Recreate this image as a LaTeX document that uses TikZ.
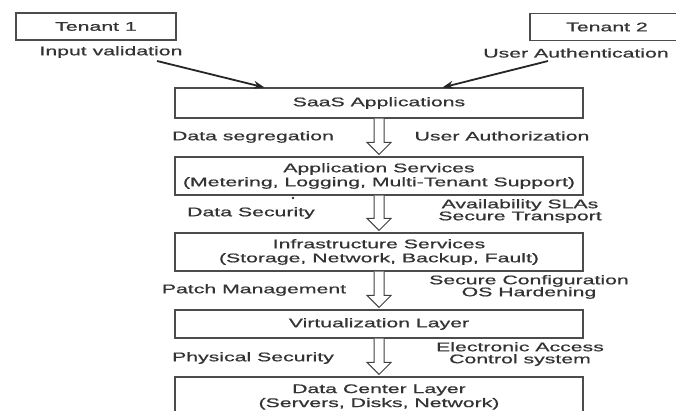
\documentclass[tikz,border=0pt]{standalone}
\usepackage{fontspec}
\setmainfont[FakeStretch=1.7,FakeBold=0.7]{Liberation Sans}
\usetikzlibrary{calc,arrows.meta}
\begin{document}
\begin{tikzpicture}[x=1pt,y=-1pt,
  txt/.style={inner sep=0pt,text=black!80,font=\fontsize{12.5}{12}\selectfont,align=center},
  layer/.style={draw=black!70,line width=1.1pt,minimum width=408pt,inner sep=0pt,text=black!80,font=\fontsize{12.5}{14}\selectfont,align=center},
  tenant/.style={draw=black!70,line width=1.1pt,minimum height=27pt,inner sep=0pt,text=black!80,font=\fontsize{12.5}{14}\selectfont},
  arr/.style={draw=black!85,line width=1.8pt,-{Stealth[length=11pt,width=8pt]}},
  darr/.style={draw=black!75,line width=1pt,fill=white,line join=miter}]
\useasboundingbox[fill=white] (0,0) rectangle (676,410);
% tenants
\node[tenant,minimum width=160pt] (t1) at (96,26.5) {Tenant 1};
\node[tenant,minimum width=154pt] (t2) at (607,27) {Tenant 2};
\node[txt] (iv) at (111,52) {Input validation};
\node[txt] (ua) at (576,53) {User Authentication};
% layers
\node[layer,minimum height=30pt] (saas) at (379,103) {SaaS Applications};
\node[layer,minimum height=38pt] (app) at (379,176) {Application Services\\(Metering, Logging, Multi-Tenant Support)};
\node[layer,minimum height=38pt] (infra) at (379,252) {Infrastructure Services\\(Storage, Network, Backup, Fault)};
\node[layer,minimum height=28pt] (virt) at (379,324) {Virtualization Layer};
\node[layer,minimum height=40pt] (dc) at (379,397) {Data Center Layer\\(Servers, Disks, Network)};
% labels
\node[txt] (l1) at (253,137) {Data segregation};
\node[txt] (r1) at (502,136) {User Authorization};
\node[txt] (l2) at (251,213) {Data Security};
\node[txt] (r2) at (520,211) {Availability SLAs\\Secure Transport};
\node[txt] (l3) at (254,290) {Patch Management};
\node[txt] (r3) at (529,287) {Secure Configuration\\OS Hardening};
\node[txt] (l4) at (253,358) {Physical Security};
\node[txt] (r4) at (520,354) {Electronic Access\\Control system};
\fill[black!80] (293,198) circle (1.3pt);
% tenant arrows
\coordinate (s1) at (157,61);
\coordinate (s2) at (548,61);
\draw[arr] (s1) -- ($(saas.north west)+(90,0)$);
\draw[arr] (s2) -- ($(saas.north west)+(268,0)$);
% double arrows between layers
\newcommand\layerarrow[2]{%
  \draw[darr] ($(#1.south)+(-5,0)$) -- ($(#2.north)+(-5,-14)$) -- ($(#2.north)+(-12,-14)$)
    -- ($(#2.north)+(0,-2)$) -- ($(#2.north)+(12,-14)$) -- ($(#2.north)+(5,-14)$)
    -- ($(#1.south)+(5,0)$);}
\layerarrow{saas}{app}
\layerarrow{app}{infra}
\layerarrow{infra}{virt}
\layerarrow{virt}{dc}
\end{tikzpicture}
\end{document}
